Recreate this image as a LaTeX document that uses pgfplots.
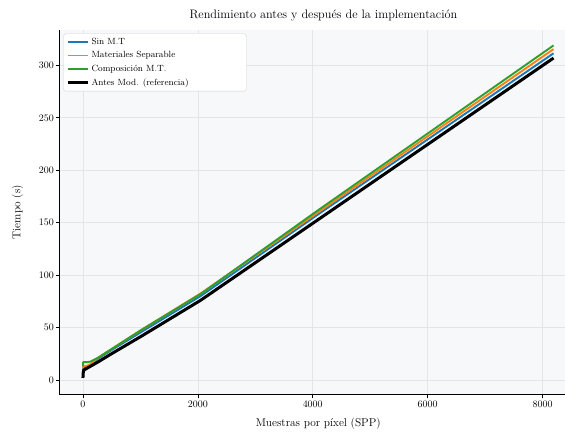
\documentclass[border=0pt]{standalone}
\usepackage{pgfplots}
\pgfplotsset{compat=1.18}
\definecolor{cblue}{HTML}{1F77B4}
\definecolor{corange}{HTML}{FF7F0E}
\definecolor{cgreen}{HTML}{2CA02C}
\definecolor{bgc}{HTML}{F7F8FA}
\definecolor{gridc}{HTML}{E4E5E9}
\begin{document}
\begin{tikzpicture}[x=1bp,y=1bp]
\begin{axis}[
  at={(0,0)}, anchor=south west,
  scale only axis,
  width=517.6bp, height=364.6bp,
  xmin=-408.5, xmax=8601, ymin=-13.8, ymax=333.8,
  axis lines*=left,
  axis line style={black, line width=0.8pt},
  axis background/.style={fill=bgc},
  grid=major,
  major grid style={gridc, line width=0.6pt},
  xtick={0,2000,4000,6000,8000},
  ytick={0,50,100,150,200,250,300},
  scaled x ticks=false,
  xticklabel style={/pgf/number format/1000 sep={}},
  yticklabel style={xshift=1.5bp},
  tick style={black, line width=0.6pt},
  tick align=outside,
  major tick length=3.5bp,
  ticklabel style={font=\fontsize{10}{12}\selectfont},
  xlabel={Muestras por píxel (SPP)},
  ylabel={Tiempo (s)},
  label style={font=\fontsize{11.4}{13}\selectfont},
  xlabel style={at={(axis description cs:0.5,-0.0795)}, anchor=center},
  ylabel style={at={(axis description cs:-0.0811,0.5)}, anchor=center},
  legend style={font=\fontsize{9}{11}\selectfont, draw=black!18, fill=white, rounded corners=2.5pt,
    at={(axis description cs:0.0075,0.99)}, anchor=north west, inner xsep=3bp, inner ysep=2.5bp, row sep=1.6bp},
  legend cell align=left,
  legend image code/.code={\draw[#1] (0bp,0bp) -- (20bp,0bp);},
]
\addplot[color=cblue, line width=1.9bp] coordinates {(1,9)(2,10)(4,10.5)(8,11)(16,11.5)(32,12)(64,12.5)(128,14)(256,20)(512,29)(1024,46)(2048,80)(4096,158)(8192,311.5)};
\addlegendentry{Sin M.T}
\addplot[color=corange, line width=1.9bp] coordinates {(1,11)(2,12)(4,12.5)(8,13)(16,13)(32,13.5)(64,13.5)(128,15)(256,21)(512,30)(1024,48)(2048,82.5)(4096,160)(8192,315.5)};
\addlegendentry{Materiales Separable}
\addplot[color=cgreen, line width=1.9bp] coordinates {(1,13)(2,15.5)(4,16.5)(8,17)(16,17)(32,17)(64,17)(128,17.5)(256,21)(512,30)(1024,48)(2048,82)(4096,162)(8192,319)};
\addlegendentry{Composición M.T.}
\addplot[color=black, line width=3bp] coordinates {(1,2)(2,4)(4,6)(8,8)(16,9.5)(32,10)(64,11)(128,13)(256,17)(512,25.5)(1024,42)(2048,76)(4096,153)(8192,307)};
\addlegendentry{\makebox[150bp][l]{Antes Mod. (referencia)}}
\end{axis}
\node[font=\fontsize{12.3}{14}\selectfont, anchor=center] at (264bp,379.5bp) {Rendimiento antes y después de la implementación};
\pgfresetboundingbox
\useasboundingbox (-59.45bp,-37.5bp) rectangle (505.55bp,394.5bp);
\end{tikzpicture}
\end{document}
